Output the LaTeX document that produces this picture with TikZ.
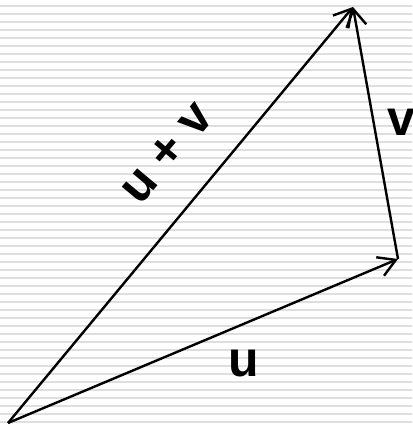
\documentclass[tikz,border=0pt]{standalone}
\usepackage{fontspec}
\setmainfont{Liberation Sans}
\usetikzlibrary{arrows.meta}
\definecolor{stripe}{HTML}{DEDEDE}
\tikzset{
  vec/.style={line width=2.4pt, -{Straight Barb[length=17pt,width=20pt,line width=2.4pt]}},
  lbl/.style={font=\fontsize{50pt}{50pt}\selectfont\bfseries, inner sep=0pt}
}
\begin{document}
\begin{tikzpicture}[x=1pt,y=1pt]
\useasboundingbox (0,0) rectangle (412,428);
\fill[white] (0,0) rectangle (412,428);
\foreach \k in {0,...,52}{
  \fill[stripe] (0,{428-(7.5+8*\k)}) rectangle (412,{428-(5+8*\k)});
}
\coordinate (O) at (8,5);
\coordinate (U) at (398,169);
\coordinate (T) at (353,421);
\draw[vec] (O) -- (U);
\draw[vec] (O) -- (T);
\draw[vec] (U) -- (T);
\node[lbl] (lu) at (243.5,64) {u};
\node[lbl] (lv) at (401,306) {v};
\node[lbl, rotate=50] (luv) at (167,275) {u + v};
\end{tikzpicture}
\end{document}
